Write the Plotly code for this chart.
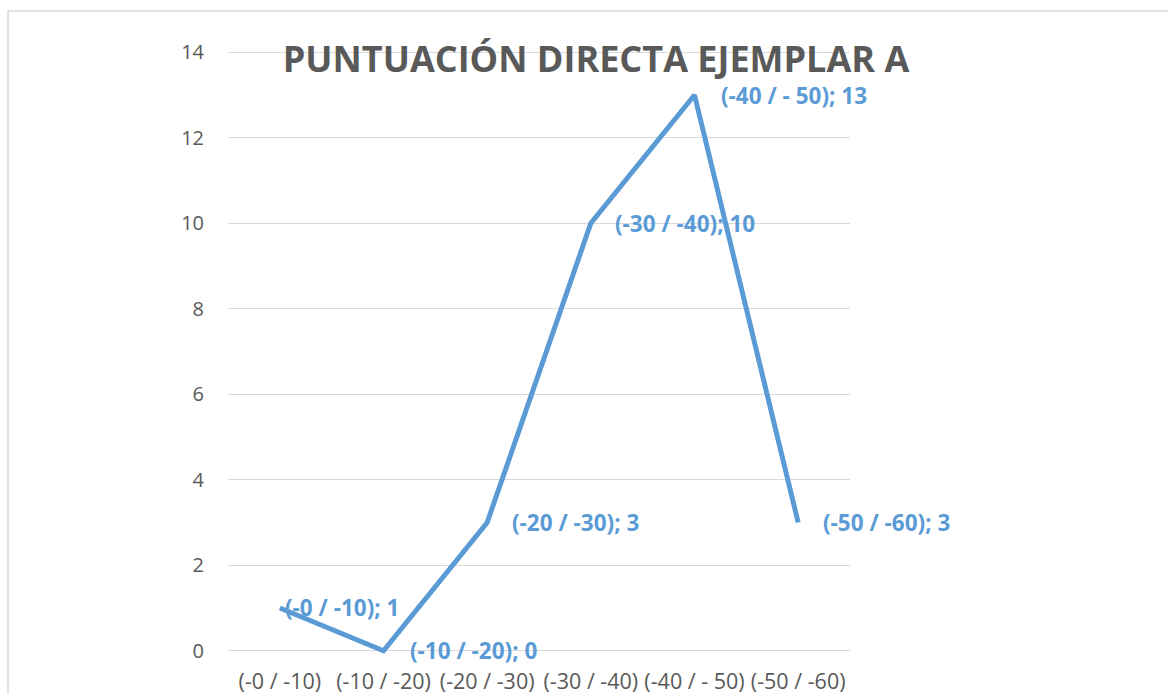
import plotly.graph_objects as go

categories = ["(-0 / -10)", "(-10 / -20)", "(-20 / -30)", "(-30 / -40)", "(-40 / - 50)", "(-50 / -60)"]
values = [1, 0, 3, 10, 13, 3]
title_text = "PUNTUACIÓN DIRECTA EJEMPLAR A"
y_ticks = [0, 2, 4, 6, 8, 10, 12, 14]

# label horizontal offsets (px) – style only
label_shift = [3, 24, 23, 22, 24, 23]

LINE = "#5B9BD5"
GRAY = "#595959"
FONT = "Open Sans"

fig = go.Figure()
fig.add_trace(go.Scatter(
    x=categories, y=values, mode="lines",
    line=dict(color=LINE, width=5, shape="linear"),
    hoverinfo="skip", showlegend=False,
))

for c, v, s in zip(categories, values, label_shift):
    fig.add_annotation(
        x=c, y=v, xref="x", yref="y",
        text=f"{c}; {v}", showarrow=False,
        xanchor="left", yanchor="middle", xshift=s, yshift=0,
        font=dict(family=FONT, size=22.5, color=LINE, weight="bold"),
    )

W, H = 1168, 694
L, R = 228, 850
T, B = 48, 655
fig.update_layout(
    width=W, height=H,
    margin=dict(l=L, r=W - R, t=T, b=H - B, pad=0, autoexpand=False),
    paper_bgcolor="white", plot_bgcolor="white",
    font=dict(family=FONT, color=GRAY),
    title=dict(
        text=title_text, x=596 / W, xref="container", xanchor="center",
        y=1 - 59 / H, yref="container", yanchor="middle",
        font=dict(family=FONT, size=36, color=GRAY, weight="bold"),
    ),
    xaxis=dict(
        type="category", range=[-0.5, 5.5], showgrid=False, zeroline=False,
        showline=False, ticks="", tickfont=dict(size=21.5, color=GRAY),
        ticklabelstandoff=11, automargin=False,
    ),
    yaxis=dict(
        range=[-0.1, 14.1], tickvals=y_ticks, showgrid=True, gridcolor="#D9D9D9",
        gridwidth=1.3, zeroline=False, showline=False, ticks="",
        tickfont=dict(size=20, color=GRAY), ticklabelstandoff=23, automargin=False,
    ),
)

# outer chart border (Excel chart area)
bx0 = (8 - L) / (R - L)
by1 = 1 + (T - 11) / (B - T)
fig.add_shape(type="rect", xref="paper", yref="paper",
              x0=bx0, x1=(1200 - L) / (R - L), y0=-0.2, y1=by1,
              line=dict(color="#D9D9D9", width=1.5), fillcolor="rgba(0,0,0,0)",
              layer="below")

fig.write_html(
    "out.html",
    config={"displayModeBar": False},
    post_script="document.body.style.margin='0';document.body.style.overflow='hidden';",
)
